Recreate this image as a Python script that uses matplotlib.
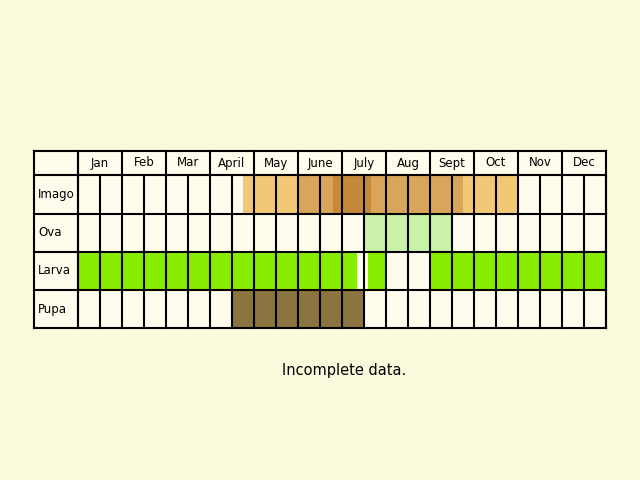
import matplotlib.pyplot as plt
from matplotlib.patches import Rectangle

# === DATA ===
months = ["Jan", "Feb", "Mar", "April", "May", "June", "July", "Aug", "Sept", "Oct", "Nov", "Dec"]
stages = ["Imago", "Ova", "Larva", "Pupa"]
# segments in half-month units (0 = start of Jan, 24 = end of Dec)
imago = [(7.5, 10, "#f2c877"), (10, 11.6, "#d9a55a"), (11.6, 13.3, "#c48a3a"),
         (13.3, 17.5, "#d9a55a"), (17.5, 20, "#f2c877")]
ova = [(13, 17, "#c9f2a8")]
larva = [(0, 12.7, "#88ee00"), (13.2, 14, "#88ee00"), (16, 24, "#88ee00")]
pupa = [(7, 13, "#8c7441")]
segments = [imago, ova, larva, pupa]

# === LAYOUT (pixels) ===
bg = "#fcfadc"
cell = "#fffcee"
x0, xl, cw = 34, 78, 22
y_head, y_rows = 151, 175
row_h = [39, 38, 38, 38]
lw = 1.5

fig = plt.figure(figsize=(6.4, 4.8), dpi=100, facecolor=bg)
ax = fig.add_axes([0, 0, 1, 1])
ax.set_xlim(0, 640)
ax.set_ylim(480, 0)
ax.axis("off")

x_end = xl + 24 * cw
ax.add_patch(Rectangle((x0, y_head), x_end - x0, y_rows + sum(row_h) - y_head,
                       facecolor=cell, edgecolor="none"))

# header
for i, m in enumerate(months):
    ax.text(xl + (2 * i + 1) * cw, (y_head + y_rows) / 2, m, ha="center", va="center", fontsize=8.5)
    ax.plot([xl + 2 * i * cw] * 2, [y_head, y_rows], color="black", lw=lw)

# rows
y = y_rows
for name, segs, h in zip(stages, segments, row_h):
    for s, e, c in segs:
        ax.add_patch(Rectangle((xl + s * cw, y), (e - s) * cw, h, facecolor=c, edgecolor="none"))
    ax.text(x0 + 4, y + h / 2, name, ha="left", va="center", fontsize=8.5)
    for k in range(25):
        ax.plot([xl + k * cw] * 2, [y, y + h], color="black", lw=lw)
    y += h

# horizontal lines
ys = [y_head, y_rows]
for h in row_h:
    ys.append(ys[-1] + h)
for yy in ys:
    ax.plot([x0, x_end], [yy, yy], color="black", lw=lw)
ax.plot([x0, x0], [y_head, ys[-1]], color="black", lw=lw)
ax.plot([xl, xl], [y_head, ys[-1]], color="black", lw=lw)
ax.plot([x_end, x_end], [y_head, ys[-1]], color="black", lw=lw)

ax.text(344, 370, "Incomplete data.", ha="center", va="center", fontsize=10.5)

fig.savefig("out.png", dpi=100, facecolor=bg)
